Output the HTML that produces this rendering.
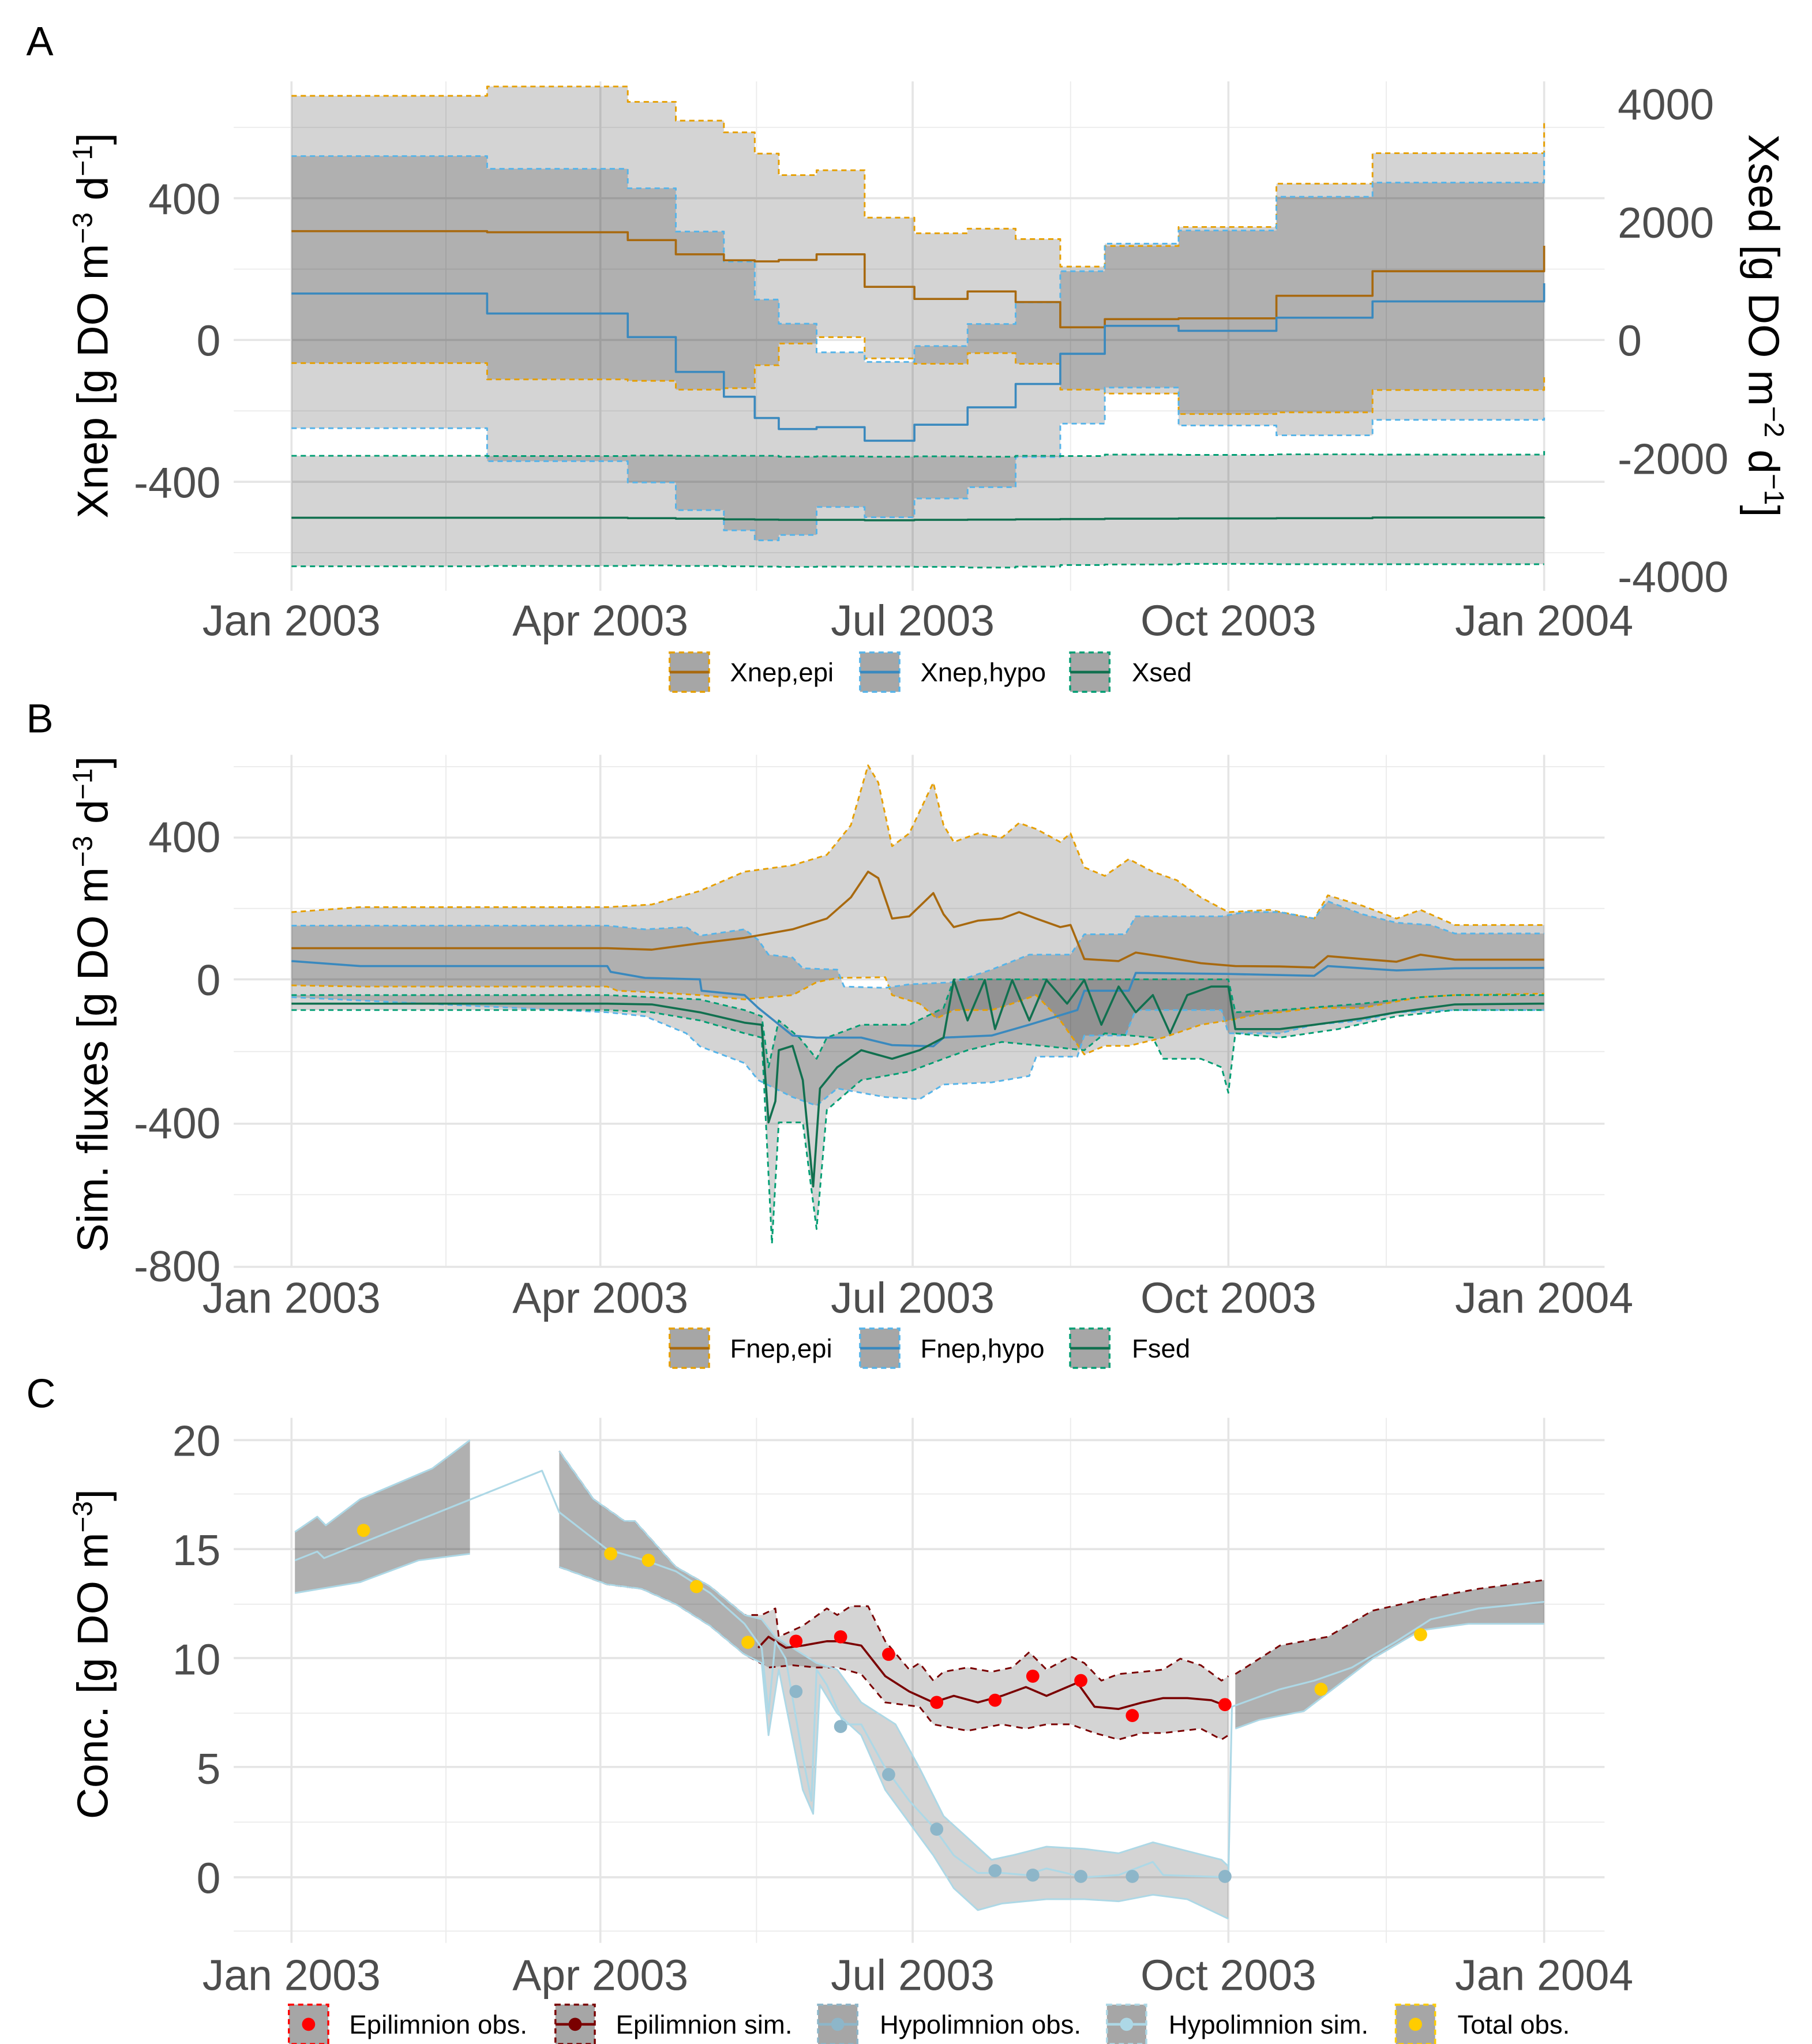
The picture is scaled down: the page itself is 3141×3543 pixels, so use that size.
<!DOCTYPE html>
<html><head><meta charset="utf-8"><title>DO fluxes</title>
<style>
html,body{margin:0;padding:0;background:#fff;}
svg{display:block;font-family:"Liberation Sans",Arial,sans-serif;}
</style></head>
<body>
<svg id="chart" width="3141" height="3543" viewBox="0 0 1380 1557" preserveAspectRatio="none" xmlns="http://www.w3.org/2000/svg"></svg>
<script>
// ---------- Panel A data (step intervals, days since 2003-01-01) ----------
const aBreaks=[0,57,98,112,126,135,142,153,167,181.5,197,211,224,237,258.5,287,315,365];
const epiMed=[307,304,282,242,225,222,226,242,150,116,137,107,36,59,61,125,194];const epiMedEnd=266;
const epiUp=[689,715,672,619,586,526,465,479,345,301,314,285,207,265,319,441,527];const epiUpEnd=619;
const epiLo=[-65,-111,-115,-140,-136,-71,-10,8,-52,-67,-37,-67,-140,-151,-209,-204,-141];const epiLoEnd=-102;
const hypMed=[131,75,8,-90,-160,-220,-251,-246,-284,-239,-190,-124,-39,40,26,63,109];const hypMedEnd=160;
const hypUp=[519,483,428,306,221,114,46,-35,-62,-17,45,106,194,272,309,404,444];const hypUpEnd=529;
const hypLo=[-249,-342,-402,-480,-537,-565,-550,-471,-500,-447,-415,-330,-236,-134,-241,-269,-225];const hypLoEnd=-219;
const sedMed=[-3010,-3010,-3015,-3025,-3035,-3040,-3045,-3045,-3050,-3045,-3040,-3035,-3030,-3025,-3020,-3015,-3005];const sedMedEnd=-3000;
const sedUp=[-1960,-1965,-1955,-1960,-1960,-1960,-1975,-1970,-1975,-1970,-1975,-1960,-1965,-1940,-1945,-1935,-1940];const sedUpEnd=-1880;
const sedLo=[-3830,-3825,-3815,-3825,-3830,-3835,-3840,-3835,-3835,-3840,-3850,-3835,-3810,-3800,-3790,-3795,-3795];const sedLoEnd=-3795;
const aLeftTicks=[400,0,-400];const aRightTicks=[4000,2000,0,-2000,-4000];

// ---------- Panel B data ----------
const bEpiUpD=[0,20,92,105,119,132,146,156,163,168,171,175,180,187,190,193,200,207,212,217,224,227,231,237,244,251,258,265,273,285,298,302,312,322,329,339,365];
const bEpiUpV=[188,202,202,209,247,301,319,348,431,598,550,372,408,550,431,384,408,396,437,420,384,408,313,289,336,301,277,229,188,194,170,235,206,170,194,152,152];
const bEpiMedD=[0,92,105,119,132,146,156,163,168,171,175,180,187,190,193,200,207,212,217,224,227,231,241,246,254,265,275,288,298,302,312,322,329,339,365];
const bEpiMedV=[87,87,83,101,116,140,170,229,301,283,170,176,241,182,146,164,170,188,170,146,152,57,51,75,63,45,37,36,33,65,57,49,69,55,55];
const bEpiLoD=[0,20,92,95,105,119,132,146,153,159,173,175,183,188,193,204,210,217,224,231,237,244,254,265,273,282,288,298,312,322,329,339,365];
const bEpiLoV=[-17,-20,-20,-32,-36,-44,-56,-44,-8,4,6,-44,-68,-109,-86,-86,-68,-44,-115,-210,-186,-186,-163,-127,-115,-97,-92,-80,-80,-62,-50,-44,-40];
const bHypUpD=[0,92,103,115,119,132,136,139,146,149,159,161,173,180,193,204,215,227,231,243,246,271,278,288,298,302,312,322,332,339,365];
const bHypUpV=[150,150,140,146,122,140,110,69,61,31,27,-20,-24,-14,-8,27,69,69,126,126,176,176,188,188,170,218,182,158,152,128,128];
const bHypMedD=[0,20,92,93,103,119,119.5,132,136,146,153,166,175,187,190,204,215,229,231,244,246,273,298,302,322,329,339,365];
const bHypMedV=[51,37,37,21,4,0,-32,-44,-80,-157,-163,-163,-184,-187,-163,-157,-127,-86,-32,-32,18,15,10,37,25,27,31,32];
const bHypLoD=[0,92,103,115,119,132,136,146,153,159,173,183,190,204,215,217,229,231,243,246,271,273,288,298,312,322,339,365];
const bHypLoV=[-50,-92,-103,-151,-187,-234,-282,-329,-353,-305,-329,-335,-294,-288,-270,-216,-216,-157,-157,-86,-86,-151,-151,-127,-115,-92,-86,-86];
const bSedMedD=[0,92,105,119,132,137,139,141,142,146,149,152,154,159,166,175,183,190,193,197,202,205,210,215,220,226,231,236,241,246,251,256,261,268,273,275,288,298,312,322,339,365];
const bSedMedV=[-68,-68,-70,-92,-121,-127,-400,-341,-198,-186,-282,-579,-305,-246,-198,-222,-198,-163,-2,-115,-2,-139,-2,-115,-2,-68,-2,-127,-20,-92,-44,-151,-44,-20,-20,-139,-139,-127,-109,-92,-70,-68];
const bSedUpD=[0,92,119,132,137,139,142,148,153,156,166,180,190,193,273,275,288,312,329,339,365];
const bSedUpV=[-44,-44,-56,-86,-103,-246,-115,-163,-222,-163,-127,-127,-80,0,0,-92,-86,-68,-50,-44,-44];
const bSedLoD=[0,92,105,119,132,137,140,142,149,153,156,166,180,190,197,207,220,231,237,251,254,265,271,273,275,288,305,322,339,365];
const bSedLoV=[-86,-86,-92,-115,-151,-163,-739,-400,-400,-698,-365,-282,-258,-222,-198,-175,-187,-198,-151,-163,-222,-222,-246,-317,-151,-163,-139,-103,-86,-86];
const bTicks=[400,0,-400,-800];

// ---------- Panel C data ----------
const cHypMedD=[1,7.5,9.5,73,78,92,103,112,122,132,137,139,141,144,149,151.5,153,156,161,166,173,180,187,193,200,207,214,220,231,241,251,254,273,274,288,298,309,322,332,346,365];
const cHypMedV=[14.5,14.9,14.6,18.6,16.7,15.0,14.5,14.0,13.0,11.6,10.5,7.5,10.8,10.0,5.5,3.5,9.5,8.8,7.0,7.0,5.0,3.5,2.3,1.0,0.2,0.2,0.1,0.4,0.0,0.1,0.7,0.1,0.0,7.8,8.6,9.0,9.6,10.8,11.8,12.3,12.6];
const cUp1D=[1,7.5,10,20,41,52];const cUp1V=[15.8,16.5,16.1,17.3,18.7,20.0];
const cLo1D=[1,20,37,52];const cLo1V=[13.0,13.5,14.5,14.8];
const cHypUp2D=[78,88,97,100,112,122,132,137,141,146,153,159,166,176,183,190,197,204,210,220,231,241,251,261,271,273];
const cHypUp2V=[19.5,17.3,16.3,16.3,14.2,13.3,12.0,11.8,11.0,10.5,9.8,9.5,8.0,7.0,5.0,2.8,1.8,0.8,1.0,1.4,1.3,1.1,1.6,1.2,0.8,0.5];
const cHypLo2D=[78,92,102,112,122,132,137,139,142,149,152,154,159,166,173,180,187,193,200,207,220,231,241,251,261,273];
const cHypLo2V=[14.2,13.4,13.2,12.5,11.5,10.2,9.8,6.5,9.5,4.0,2.9,8.8,7.5,6.5,4.0,2.5,1.0,-0.5,-1.5,-1.2,-1.0,-1.0,-1.1,-0.8,-1.0,-1.9];
const cEpiUp2D=[78,88,97,100,112,122,132,137,141,142,149,156,159,163,168,173,180,183,187,190,197,204,210,215,220,227,231,236,241,248,254,259,265,271,273];
const cEpiUp2V=[19.5,17.3,16.3,16.3,14.2,13.3,12.0,12.0,12.3,11.0,11.5,12.3,12.0,12.4,12.4,10.8,9.5,9.8,9.0,9.4,9.6,9.4,9.6,10.3,9.5,10.1,9.8,9.0,9.3,9.4,9.5,10.0,9.7,9.0,9.2];
const cEpiLo2D=[78,92,102,112,122,132,139,146,153,159,166,173,183,187,197,207,214,220,227,234,241,248,254,265,271,273];
const cEpiLo2V=[14.2,13.4,13.2,12.5,11.5,10.2,9.6,9.7,9.6,9.6,9.3,8.0,7.8,7.0,6.7,7.0,6.8,7.0,7.0,6.6,6.3,6.6,6.6,6.8,6.3,6.5];
const cEpiMedD=[136,139,144,149,156,159,166,173,180,187,193,200,207,214,220,229,234,241,248,254,261,268,273];
const cEpiMedV=[10.5,11.0,10.5,10.6,10.8,10.8,10.6,9.2,8.5,8.0,8.3,8.0,8.3,8.7,8.3,8.9,7.8,7.7,8.0,8.2,8.2,8.1,7.8];
const cUp3D=[275,288,302,315,332,346,365];const cUp3V=[9.3,10.6,11.0,12.2,12.8,13.2,13.6];
const cLo3D=[275,282,295,305,315,329,343,365];const cLo3V=[6.8,7.2,7.6,8.8,10.0,11.3,11.6,11.6];
const totObsD=[21,93,104,118,133,300,329];const totObsV=[15.87,14.8,14.5,13.3,10.75,8.6,11.1];
const epiObsD=[147,160,174,188,205,216,230,245,272];const epiObsV=[10.8,11.0,10.2,8.0,8.1,9.2,9.0,7.4,7.9];
const hypObsD=[147,160,174,188,205,216,230,245,272];const hypObsV=[8.5,6.9,4.7,2.2,0.3,0.1,0.04,0.04,0.04];
const cTicks=[20,15,10,5,0];

// ---------- shared ----------
const monthDays=[0,90,181,273,365];const monthLabels=["Jan 2003","Apr 2003","Jul 2003","Oct 2003","Jan 2004"];
const minorDays=[45,135.5,227,319];

const NS="http://www.w3.org/2000/svg";
const svg=document.getElementById('chart');
const TICK=33, TTL=33, LEG=20;
function mk(tag,attrs,name,parent){
  const el=document.createElementNS(NS,tag);
  for(const k in attrs) el.setAttribute(k,attrs[k]);
  
  
  (parent||svg).appendChild(el);
  return el;
}
const X=d=>222+d*954/365;
const GL=178,GR=1222;

function grid(top,bot,yMaj,yMin){
  yMin.forEach(y=>mk('line',{x1:GL,x2:GR,y1:y,y2:y,stroke:'#ebebeb','stroke-width':0.8},'minor-gridline'));
  minorDays.forEach(d=>mk('line',{x1:X(d),x2:X(d),y1:top,y2:bot,stroke:'#ebebeb','stroke-width':0.8},'minor-gridline'));
  yMaj.forEach(y=>mk('line',{x1:GL,x2:GR,y1:y,y2:y,stroke:'#e5e5e5','stroke-width':1.6},'major-gridline'));
  monthDays.forEach(d=>mk('line',{x1:X(d),x2:X(d),y1:top,y2:bot,stroke:'#e5e5e5','stroke-width':1.6},'major-gridline'));
}
function xLabels(y){
  monthDays.forEach((d,i)=>{const t=mk('text',{x:X(d),y:y,'text-anchor':'middle','font-size':TICK,fill:'#4d4d4d'},'x-tick-label');t.textContent=monthLabels[i];});
}
function stepPts(br,vals,end,Y){
  const p=[];
  for(let i=0;i<vals.length;i++){p.push([X(br[i]),Y(vals[i])]);p.push([X(br[i+1]),Y(vals[i])]);}
  p.push([X(br[br.length-1]),Y(end)]);
  return p;
}
function linePts(D,V,Y){return D.map((d,i)=>[X(d),Y(V[i])]);}
const P=pts=>pts.map(p=>p[0].toFixed(1)+','+p[1].toFixed(1)).join(' ');
function ribbon(up,lo,name){mk('polygon',{points:P(up.concat(lo.slice().reverse())),fill:'#000','fill-opacity':0.17},name);}
function pl(pts,color,w,dash,name){const a={points:P(pts),fill:'none',stroke:color,'stroke-width':w,'stroke-linejoin':'round'};if(dash)a['stroke-dasharray']=dash;return mk('polyline',a,name);}
function title(x,y,rot,parts,name){
  const t=mk('text',{x:0,y:0,transform:`translate(${x},${y}) rotate(${rot})`,'text-anchor':'middle','font-size':TTL,fill:'#000'},name);
  parts.forEach(p=>{const s=document.createElementNS(NS,'tspan');if(p[1]){s.setAttribute('font-size',21);s.setAttribute('dy',-12);}else if(p[2]){s.setAttribute('dy',12);}s.textContent=p[0];t.appendChild(s);});
}
function legendKey(x,y,color,lineColor,dashed,pointColor,name){
  const g=mk('g',{},name);
  mk('rect',{x:x,y:y-15,width:30,height:30,fill:'#a6a6a6',stroke:color,'stroke-width':1.5,'stroke-dasharray':dashed?'4,3':'none'},'legend-key-box',g);
  if(lineColor) mk('line',{x1:x,x2:x+30,y1:y,y2:y,stroke:lineColor,'stroke-width':2},'legend-key-line',g);
  if(pointColor) mk('circle',{cx:x+15,cy:y,r:5,fill:pointColor},'legend-key-point',g);
}
function legendText(x,y,s){const t=mk('text',{x:x,y:y+7,'font-size':LEG,fill:'#000'},'legend-label');t.textContent=s;}
function panelLetter(x,y,s){const t=mk('text',{x:x,y:y,'font-size':31,fill:'#000'},'panel-label');t.textContent=s;}

const ORA='#E69F00',ORA2='#A8690F',BLU='#56B4E9',BLU2='#3A89BE',GRN='#009E73',GRN2='#11704f';

// ================= Panel A =================
(function(){
  const YL=v=>259-v*0.27, YR=v=>259-v*0.045;
  panelLetter(20,42,'A');
  grid(62,450,[151,259,367],[97,205,313,421]);
  ribbon(stepPts(aBreaks,epiUp,epiUpEnd,YL),stepPts(aBreaks,epiLo,epiLoEnd,YL),'xnep-epi-ribbon');
  ribbon(stepPts(aBreaks,hypUp,hypUpEnd,YL),stepPts(aBreaks,hypLo,hypLoEnd,YL),'xnep-hypo-ribbon');
  ribbon(stepPts(aBreaks,sedUp,sedUpEnd,YR),stepPts(aBreaks,sedLo,sedLoEnd,YR),'xsed-ribbon');
  pl(stepPts(aBreaks,epiUp,epiUpEnd,YL),ORA,1.3,'4,3','xnep-epi-upper');
  pl(stepPts(aBreaks,epiLo,epiLoEnd,YL),ORA,1.3,'4,3','xnep-epi-lower');
  pl(stepPts(aBreaks,hypUp,hypUpEnd,YL),BLU,1.3,'4,3','xnep-hypo-upper');
  pl(stepPts(aBreaks,hypLo,hypLoEnd,YL),BLU,1.3,'4,3','xnep-hypo-lower');
  pl(stepPts(aBreaks,sedUp,sedUpEnd,YR),GRN,1.3,'4,3','xsed-upper');
  pl(stepPts(aBreaks,sedLo,sedLoEnd,YR),GRN,1.3,'4,3','xsed-lower');
  pl(stepPts(aBreaks,epiMed,epiMedEnd,YL),ORA2,1.6,null,'xnep-epi-median');
  pl(stepPts(aBreaks,hypMed,hypMedEnd,YL),BLU2,1.6,null,'xnep-hypo-median');
  pl(stepPts(aBreaks,sedMed,sedMedEnd,YR),GRN2,1.6,null,'xsed-median');
  aLeftTicks.forEach(v=>{const t=mk('text',{x:168,y:YL(v)+12,'text-anchor':'end','font-size':TICK,fill:'#4d4d4d'},'y-tick-label');t.textContent=v;});
  aRightTicks.forEach(v=>{const t=mk('text',{x:1232,y:YR(v)+12,'font-size':TICK,fill:'#4d4d4d'},'y2-tick-label');t.textContent=v;});
  xLabels(484);
  title(82,248,-90,[['Xnep [g DO m'],['−3',1],[' d',0,1],['−1',1],[']',0,1]],'y-axis-title');
  title(1332,248,90,[['Xsed [g DO m'],['−2',1],[' d',0,1],['−1',1],[']',0,1]],'y2-axis-title');
  legendKey(510,512,ORA,ORA2,true,null,'legend-entry-xnep-epi');legendText(556,512,'Xnep,epi');
  legendKey(655,512,BLU,BLU2,true,null,'legend-entry-xnep-hypo');legendText(701,512,'Xnep,hypo');
  legendKey(815,512,GRN,GRN2,true,null,'legend-entry-xsed');legendText(862,512,'Xsed');
})();

// ================= Panel B =================
(function(){
  const Y=v=>746-v*0.2725;
  panelLetter(20,558,'B');
  grid(575,965,[638,746,856,965],[584,692,801,910]);
  ribbon(linePts(bEpiUpD,bEpiUpV,Y),linePts(bEpiLoD,bEpiLoV,Y),'fnep-epi-ribbon');
  ribbon(linePts(bHypUpD,bHypUpV,Y),linePts(bHypLoD,bHypLoV,Y),'fnep-hypo-ribbon');
  ribbon(linePts(bSedUpD,bSedUpV,Y),linePts(bSedLoD,bSedLoV,Y),'fsed-ribbon');
  pl(linePts(bEpiUpD,bEpiUpV,Y),ORA,1.3,'4,3','fnep-epi-upper');
  pl(linePts(bEpiLoD,bEpiLoV,Y),ORA,1.3,'4,3','fnep-epi-lower');
  pl(linePts(bHypUpD,bHypUpV,Y),BLU,1.3,'4,3','fnep-hypo-upper');
  pl(linePts(bHypLoD,bHypLoV,Y),BLU,1.3,'4,3','fnep-hypo-lower');
  pl(linePts(bSedUpD,bSedUpV,Y),GRN,1.3,'4,3','fsed-upper');
  pl(linePts(bSedLoD,bSedLoV,Y),GRN,1.3,'4,3','fsed-lower');
  pl(linePts(bEpiMedD,bEpiMedV,Y),ORA2,1.6,null,'fnep-epi-median');
  pl(linePts(bHypMedD,bHypMedV,Y),BLU2,1.6,null,'fnep-hypo-median');
  pl(linePts(bSedMedD,bSedMedV,Y),GRN2,1.6,null,'fsed-median');
  bTicks.forEach(v=>{const t=mk('text',{x:168,y:Y(v)+12,'text-anchor':'end','font-size':TICK,fill:'#4d4d4d'},'y-tick-label');t.textContent=v;});
  xLabels(1000);
  title(82,765,-90,[['Sim. fluxes [g DO m'],['−3',1],[' d',0,1],['−1',1],[']',0,1]],'y-axis-title');
  legendKey(510,1027,ORA,ORA2,true,null,'legend-entry-fnep-epi');legendText(556,1027,'Fnep,epi');
  legendKey(655,1027,BLU,BLU2,true,null,'legend-entry-fnep-hypo');legendText(701,1027,'Fnep,hypo');
  legendKey(815,1027,GRN,GRN2,true,null,'legend-entry-fsed');legendText(862,1027,'Fsed');
})();

// ================= Panel C =================
(function(){
  const Y=v=>1430-v*16.65;
  panelLetter(20,1072,'C');
  grid(1080,1480,[1097,1180,1263,1346,1430],[1138,1222,1305,1388,1471]);
  const LB='#add8e6',DR='#7a0000';
  ribbon(linePts(cUp1D,cUp1V,Y),linePts(cLo1D,cLo1V,Y),'epi-sim-ribbon-1');
  ribbon(linePts(cUp1D,cUp1V,Y),linePts(cLo1D,cLo1V,Y),'hypo-sim-ribbon-1');
  ribbon(linePts(cEpiUp2D,cEpiUp2V,Y),linePts(cEpiLo2D,cEpiLo2V,Y),'epi-sim-ribbon-2');
  ribbon(linePts(cHypUp2D,cHypUp2V,Y),linePts(cHypLo2D,cHypLo2V,Y),'hypo-sim-ribbon-2');
  ribbon(linePts(cUp3D,cUp3V,Y),linePts(cLo3D,cLo3V,Y),'epi-sim-ribbon-3');
  ribbon(linePts(cUp3D,cUp3V,Y),linePts(cLo3D,cLo3V,Y),'hypo-sim-ribbon-3');
  pl(linePts(cEpiUp2D,cEpiUp2V,Y),DR,1.3,'5,4','epi-sim-upper');
  pl(linePts(cEpiLo2D,cEpiLo2V,Y),DR,1.3,'5,4','epi-sim-lower');
  pl(linePts(cUp3D,cUp3V,Y),DR,1.3,'5,4','epi-sim-upper-3');
  pl(linePts(cUp1D,cUp1V,Y),LB,1.3,null,'hypo-sim-upper-1');
  pl(linePts(cLo1D,cLo1V,Y),LB,1.3,null,'hypo-sim-lower-1');
  pl(linePts(cHypUp2D,cHypUp2V,Y),LB,1.3,null,'hypo-sim-upper-2');
  pl(linePts(cHypLo2D,cHypLo2V,Y),LB,1.3,null,'hypo-sim-lower-2');
  pl(linePts(cLo3D,cLo3V,Y),LB,1.3,null,'hypo-sim-lower-3');
  pl(linePts(cEpiMedD,cEpiMedV,Y),DR,1.6,null,'epi-sim-line');
  pl(linePts(cHypMedD,cHypMedV,Y),LB,1.4,null,'hypo-sim-line');
  totObsD.forEach((d,i)=>mk('circle',{cx:X(d),cy:Y(totObsV[i]),r:5,fill:'#FFCC00'},'total-obs-point'));
  epiObsD.forEach((d,i)=>mk('circle',{cx:X(d),cy:Y(epiObsV[i]),r:5,fill:'#FF0000'},'epi-obs-point'));
  hypObsD.forEach((d,i)=>mk('circle',{cx:X(d),cy:Y(hypObsV[i]),r:5,fill:'#8DB6C9'},'hypo-obs-point'));
  cTicks.forEach(v=>{const t=mk('text',{x:168,y:Y(v)+12,'text-anchor':'end','font-size':TICK,fill:'#4d4d4d'},'y-tick-label');t.textContent=v;});
  xLabels(1516);
  title(82,1260,-90,[['Conc. [g DO m'],['−3',1],[']',0,1]],'y-axis-title');
  legendKey(220,1542,'#FF0000',null,true,'#FF0000','legend-entry-epi-obs');legendText(266,1542,'Epilimnion obs.');
  legendKey(423,1542,DR,DR,true,DR,'legend-entry-epi-sim');legendText(469,1542,'Epilimnion sim.');
  legendKey(623,1542,'#8DB6C9','#8DB6C9',true,'#8DB6C9','legend-entry-hypo-obs');legendText(670,1542,'Hypolimnion obs.');
  legendKey(843,1542,LB,LB,true,LB,'legend-entry-hypo-sim');legendText(890,1542,'Hypolimnion sim.');
  legendKey(1063,1542,'#FFCC00',null,true,'#FFCC00','legend-entry-total-obs');legendText(1110,1542,'Total obs.');
})();
</script>
</body></html>
